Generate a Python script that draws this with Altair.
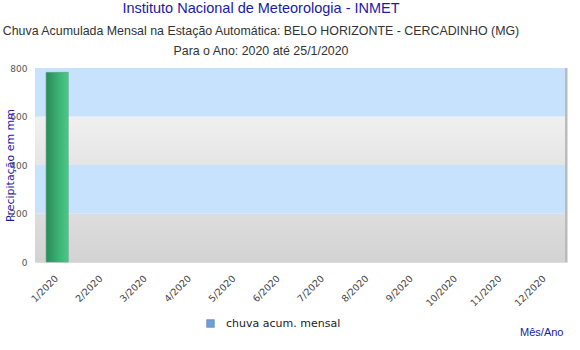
import altair as alt
import pandas as pd

months = ["1/2020", "2/2020", "3/2020", "4/2020", "5/2020", "6/2020",
          "7/2020", "8/2020", "9/2020", "10/2020", "11/2020", "12/2020"]
rain = [782, None, None, None, None, None, None, None, None, None, None, None]
series_name = "chuva acum. mensal"

band_lo = [0, 200, 400, 600]
band_hi = [200, 400, 600, 800]
band_kind = ["gray1", "blue", "gray2", "blue"]

df = pd.DataFrame({"mes": months, "chuva": rain, "serie": series_name})
bands = pd.DataFrame({"lo": band_lo, "hi": band_hi, "kind": band_kind})

W, H = 532, 194

yscale = alt.Scale(domain=[0, 800], nice=False)


def band_layer(kind, color):
    return alt.Chart(bands).transform_filter(alt.datum.kind == kind).mark_rect(
        color=color
    ).encode(
        x=alt.value(0), x2=alt.value(W),
        y=alt.Y("lo:Q", scale=yscale), y2="hi:Q",
    )


def vgrad(c0, c1):
    return alt.LinearGradient(gradient="linear", x1=0, y1=0, x2=0, y2=1,
                              stops=[alt.GradientStop(offset=0, color=c0),
                                     alt.GradientStop(offset=1, color=c1)])


blue = band_layer("blue", "#c6e2fd")
gray_low = band_layer("gray1", vgrad("#dddddd", "#d3d3d3"))
gray_high = band_layer("gray2", vgrad("#f0f0f0", "#e5e5e5"))

edge = alt.Chart(bands).mark_rule(color="#b8b8b8", strokeWidth=1).encode(
    x=alt.value(W - 1), y=alt.value(0), y2=alt.value(H)
)

xenc = alt.X("mes:N", sort=months,
             scale=alt.Scale(domain=months, paddingInner=0.5, paddingOuter=0.25),
             axis=alt.Axis(title="Mês/Ano", labelAngle=-45, labelFont="DejaVu Sans",
                           labelFontSize=9.5, labelColor="#444444", domain=False,
                           ticks=False, labelPadding=11, labelOffset=-4,
                           titleFont="Liberation Sans", titleFontSize=11,
                           titleFontWeight="normal", titleColor="#1a1aa0",
                           titleAlign="right", titleX=528, titleY=75,
                           titleBaseline="bottom"))

bars = alt.Chart(df).mark_bar(
    color=alt.LinearGradient(gradient="linear", x1=0, y1=0, x2=1, y2=0,
                             stops=[alt.GradientStop(offset=0, color="#2a8a5a"),
                                    alt.GradientStop(offset=0.6, color="#3bb574"),
                                    alt.GradientStop(offset=1, color="#4cc88a")]),
    stroke="#5f9f80", strokeWidth=0.6
).encode(
    x=xenc,
    y=alt.Y("chuva:Q", scale=yscale,
            axis=alt.Axis(title="Precipitação em mm", values=[0, 200, 400, 600, 800],
                          grid=False, domain=False, ticks=False, labelPadding=8,
                          labelFont="DejaVu Sans", labelFontSize=9, labelColor="#555555",
                          titleFont="DejaVu Sans", titleFontSize=11,
                          titleFontWeight="normal", titleColor="#1a1aa0",
                          titleX=-20, titleY=97, titleAlign="center")),
)

legend_layer = alt.Chart(df.head(1)).mark_square(opacity=0).encode(
    x=alt.X("mes:N", sort=months),
    y=alt.Y("chuva:Q", scale=yscale),
    color=alt.Color("serie:N", scale=alt.Scale(range=["#6f9fd8"]),
                    legend=alt.Legend(title=None, orient="none", legendX=170, legendY=250,
                                      symbolType="square", symbolSize=60,
                                      symbolOpacity=1, symbolStrokeColor="#5577aa",
                                      symbolStrokeWidth=0.5,
                                      labelFont="DejaVu Sans", labelFontSize=11,
                                      labelColor="#222222", labelOffset=10)),
)

chart = alt.layer(gray_low, gray_high, blue, edge, bars, legend_layer).properties(
    width=W, height=H,
    autosize=alt.AutoSizeParams(type="none"),
    padding={"left": 35, "top": 68, "right": 13, "bottom": 88},
    title=alt.TitleParams(
        text="Instituto Nacional de Meteorologia - INMET",
        subtitle=["Chuva Acumulada Mensal na Estação Automática: BELO HORIZONTE - CERCADINHO (MG)",
                  "Para o Ano: 2020 até 25/1/2020"],
        anchor="middle", dx=-40, offset=6,
        font="Liberation Sans", fontSize=14.5, fontWeight="normal", color="#1a1aa8",
        subtitleFont="Liberation Sans", subtitleFontSize=12.4, subtitleColor="#333333",
        subtitlePadding=8, subtitleLineHeight=20,
    ),
).configure_view(stroke=None).configure(background="white")

chart.save("out.html", embed_options={"renderer": "svg", "actions": False})
